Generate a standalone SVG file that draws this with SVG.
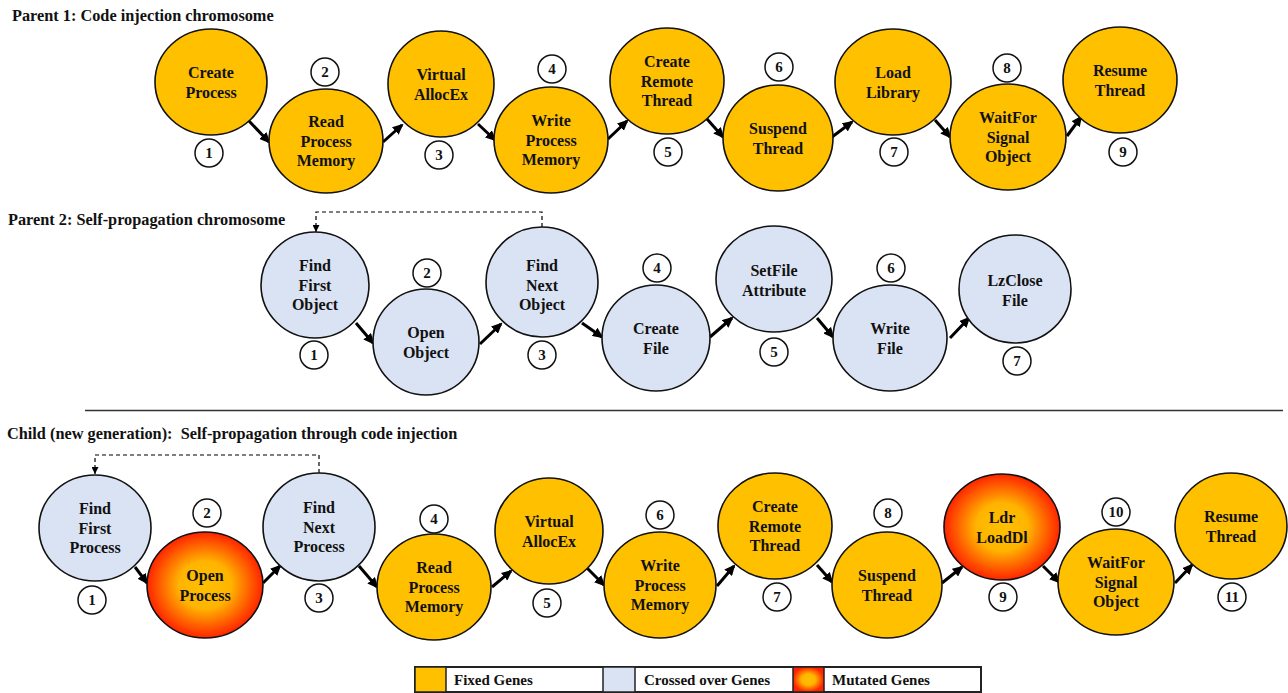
<svg xmlns="http://www.w3.org/2000/svg" width="1288" height="693" viewBox="0 0 1288 693">
<defs>
<radialGradient id="mut" cx="50%" cy="50%" r="50%">
<stop offset="0%" stop-color="#FFC000"/>
<stop offset="45%" stop-color="#FFB400"/>
<stop offset="100%" stop-color="#FF2400"/>
</radialGradient>
<marker id="ah" markerUnits="userSpaceOnUse" markerWidth="11" markerHeight="10" refX="9" refY="5" orient="auto">
<path d="M0,0 L11,5 L0,10 z" fill="#000"/>
</marker>
<marker id="dh" markerUnits="userSpaceOnUse" markerWidth="7" markerHeight="7" refX="7" refY="3.5" orient="auto">
<path d="M0,0 L7,3.5 L0,7 z" fill="#000"/>
</marker>
</defs>
<style>
.fx{fill:#FFC000;stroke:#111;stroke-width:1.6}
.cx{fill:#DAE3F3;stroke:#111;stroke-width:1.6}
.mx{fill:url(#mut);stroke:#111;stroke-width:1.6}
.lb{font-family:"Liberation Serif","Times New Roman",serif;font-weight:bold;font-size:16px;fill:#111;text-anchor:middle}
.nc{fill:#fff;stroke:#111;stroke-width:1.5}
.nt{font-family:"Liberation Serif","Times New Roman",serif;font-weight:bold;font-size:15px;fill:#111;text-anchor:middle}
.tt{font-family:"Liberation Serif","Times New Roman",serif;font-weight:bold;font-size:16.3px;fill:#111}
.ar{stroke:#000;stroke-width:3;fill:none;marker-end:url(#ah)}
.da{stroke:#000;stroke-width:1.2;fill:none;stroke-dasharray:4 3;marker-end:url(#dh)}
.lg{font-family:"Liberation Serif","Times New Roman",serif;font-weight:bold;font-size:15px;fill:#111}
</style>
<rect width="1288" height="693" fill="#fff"/>

<text class="tt" x="12" y="21">Parent 1: Code injection chromosome</text>
<text class="tt" x="8" y="225">Parent 2: Self-propagation chromosome</text>
<line x1="85" y1="410.5" x2="1283" y2="410.5" stroke="#333" stroke-width="1.6"/>
<text class="tt" x="7" y="439" xml:space="preserve">Child (new generation):  Self-propagation through code injection</text>

<g id="connectors">
<line class="ar" x1="249" y1="121" x2="269" y2="142"/>
<line class="ar" x1="383" y1="142" x2="402" y2="125"/>
<line class="ar" x1="478" y1="124" x2="495" y2="140"/>
<line class="ar" x1="608" y1="139" x2="627" y2="121"/>
<line class="ar" x1="707" y1="119" x2="723" y2="137"/>
<line class="ar" x1="832" y1="137" x2="852" y2="122"/>
<line class="ar" x1="935" y1="120" x2="950" y2="137"/>
<line class="ar" x1="1067" y1="136" x2="1081" y2="117"/>

<line class="ar" x1="356" y1="323" x2="373" y2="343"/>
<line class="ar" x1="480" y1="344" x2="501" y2="324"/>
<line class="ar" x1="582" y1="323" x2="602" y2="337"/>
<line class="ar" x1="710" y1="337" x2="732" y2="318"/>
<line class="ar" x1="817" y1="318" x2="833" y2="337"/>
<line class="ar" x1="950" y1="338" x2="969" y2="318"/>
<path class="da" d="M542,227 V212 H316 V232"/>

<line class="ar" x1="135" y1="567" x2="147" y2="583"/>
<line class="ar" x1="263" y1="583" x2="280" y2="566"/>
<line class="ar" x1="359" y1="566" x2="377" y2="587"/>
<line class="ar" x1="492" y1="587" x2="511" y2="571"/>
<line class="ar" x1="587" y1="568" x2="604" y2="585"/>
<line class="ar" x1="717" y1="586" x2="734" y2="566"/>
<line class="ar" x1="817" y1="565" x2="832" y2="582"/>
<line class="ar" x1="942" y1="583" x2="962" y2="567"/>
<line class="ar" x1="1043" y1="566" x2="1059" y2="582"/>
<line class="ar" x1="1175" y1="583" x2="1192" y2="565"/>
<path class="da" d="M319,473 V455 H95 V474"/>
</g>

<!-- Parent 1 -->
<g id="p1n1"><ellipse class="fx" cx="211" cy="82" rx="56" ry="53"/><text class="lb" x="211" y="78">Create</text><text class="lb" x="211" y="97.5">Process</text></g>
<g id="p1n2"><ellipse class="fx" cx="326" cy="141" rx="57" ry="52"/><text class="lb" x="326" y="127">Read</text><text class="lb" x="326" y="146.5">Process</text><text class="lb" x="326" y="166">Memory</text></g>
<g id="p1n3"><ellipse class="fx" cx="441" cy="84" rx="53" ry="53"/><text class="lb" x="441" y="80">Virtual</text><text class="lb" x="441" y="99.5">AllocEx</text></g>
<g id="p1n4"><ellipse class="fx" cx="551" cy="140" rx="57" ry="53"/><text class="lb" x="551" y="126">Write</text><text class="lb" x="551" y="145.5">Process</text><text class="lb" x="551" y="165">Memory</text></g>
<g id="p1n5"><ellipse class="fx" cx="667" cy="81" rx="57" ry="53"/><text class="lb" x="667" y="67">Create</text><text class="lb" x="667" y="86.5">Remote</text><text class="lb" x="667" y="106">Thread</text></g>
<g id="p1n6"><ellipse class="fx" cx="778" cy="138" rx="55" ry="53"/><text class="lb" x="778" y="134">Suspend</text><text class="lb" x="778" y="153.5">Thread</text></g>
<g id="p1n7"><ellipse class="fx" cx="893" cy="82" rx="58" ry="53"/><text class="lb" x="893" y="78">Load</text><text class="lb" x="893" y="97.5">Library</text></g>
<g id="p1n8"><ellipse class="fx" cx="1008" cy="137" rx="58" ry="53"/><text class="lb" x="1008" y="123">WaitFor</text><text class="lb" x="1008" y="142.5">Signal</text><text class="lb" x="1008" y="162">Object</text></g>
<g id="p1n9"><ellipse class="fx" cx="1120" cy="80" rx="57" ry="53"/><text class="lb" x="1120" y="76">Resume</text><text class="lb" x="1120" y="95.5">Thread</text></g>

<g id="p1nums">
<circle class="nc" cx="209" cy="153" r="14"/><text class="nt" x="209" y="158">1</text>
<circle class="nc" cx="325" cy="72" r="14"/><text class="nt" x="325" y="77">2</text>
<circle class="nc" cx="439" cy="155" r="14"/><text class="nt" x="439" y="160">3</text>
<circle class="nc" cx="552" cy="69" r="14"/><text class="nt" x="552" y="74">4</text>
<circle class="nc" cx="668" cy="152" r="14"/><text class="nt" x="668" y="157">5</text>
<circle class="nc" cx="779" cy="67" r="14"/><text class="nt" x="779" y="72">6</text>
<circle class="nc" cx="894" cy="152" r="14"/><text class="nt" x="894" y="157">7</text>
<circle class="nc" cx="1007" cy="68" r="14"/><text class="nt" x="1007" y="73">8</text>
<circle class="nc" cx="1123" cy="152" r="14"/><text class="nt" x="1123" y="157">9</text>
</g>

<!-- Parent 2 -->
<g id="p2n1"><ellipse class="cx" cx="315" cy="285" rx="54" ry="53"/><text class="lb" x="315" y="271">Find</text><text class="lb" x="315" y="290.5">First</text><text class="lb" x="315" y="310">Object</text></g>
<g id="p2n2"><ellipse class="cx" cx="426" cy="342" rx="53" ry="53"/><text class="lb" x="426" y="338">Open</text><text class="lb" x="426" y="357.5">Object</text></g>
<g id="p2n3"><ellipse class="cx" cx="542" cy="282" rx="56" ry="55"/><text class="lb" x="542" y="271">Find</text><text class="lb" x="542" y="290.5">Next</text><text class="lb" x="542" y="310">Object</text></g>
<g id="p2n4"><ellipse class="cx" cx="656" cy="338" rx="54" ry="53"/><text class="lb" x="656" y="334">Create</text><text class="lb" x="656" y="353.5">File</text></g>
<g id="p2n5"><ellipse class="cx" cx="774" cy="279" rx="58" ry="53"/><text class="lb" x="774" y="276">SetFile</text><text class="lb" x="774" y="295.5">Attribute</text></g>
<g id="p2n6"><ellipse class="cx" cx="890" cy="338" rx="57" ry="53"/><text class="lb" x="890" y="334">Write</text><text class="lb" x="890" y="353.5">File</text></g>
<g id="p2n7"><ellipse class="cx" cx="1015" cy="289" rx="56" ry="54"/><text class="lb" x="1015" y="286">LzClose</text><text class="lb" x="1015" y="305.5">File</text></g>

<g id="p2nums">
<circle class="nc" cx="314" cy="355" r="14"/><text class="nt" x="314" y="360">1</text>
<circle class="nc" cx="427" cy="273" r="14"/><text class="nt" x="427" y="278">2</text>
<circle class="nc" cx="542" cy="355" r="14"/><text class="nt" x="542" y="360">3</text>
<circle class="nc" cx="657" cy="268" r="14"/><text class="nt" x="657" y="273">4</text>
<circle class="nc" cx="774" cy="352" r="14"/><text class="nt" x="774" y="357">5</text>
<circle class="nc" cx="891" cy="268" r="14"/><text class="nt" x="891" y="273">6</text>
<circle class="nc" cx="1017" cy="361" r="14"/><text class="nt" x="1017" y="366">7</text>
</g>

<!-- Child -->
<g id="cn1"><ellipse class="cx" cx="95" cy="528" rx="56" ry="53"/><text class="lb" x="95" y="514">Find</text><text class="lb" x="95" y="533.5">First</text><text class="lb" x="95" y="553">Process</text></g>
<g id="cn2"><ellipse class="mx" cx="205" cy="585" rx="58" ry="53"/><text class="lb" x="205" y="581">Open</text><text class="lb" x="205" y="600.5">Process</text></g>
<g id="cn3"><ellipse class="cx" cx="319" cy="527" rx="56" ry="54"/><text class="lb" x="319" y="513">Find</text><text class="lb" x="319" y="532.5">Next</text><text class="lb" x="319" y="552">Process</text></g>
<g id="cn4"><ellipse class="fx" cx="434" cy="587" rx="57" ry="53"/><text class="lb" x="434" y="573">Read</text><text class="lb" x="434" y="592.5">Process</text><text class="lb" x="434" y="612">Memory</text></g>
<g id="cn5"><ellipse class="fx" cx="549" cy="531" rx="54" ry="53"/><text class="lb" x="549" y="527">Virtual</text><text class="lb" x="549" y="546.5">AllocEx</text></g>
<g id="cn6"><ellipse class="fx" cx="660" cy="585" rx="56" ry="53"/><text class="lb" x="660" y="571">Write</text><text class="lb" x="660" y="590.5">Process</text><text class="lb" x="660" y="610">Memory</text></g>
<g id="cn7"><ellipse class="fx" cx="775" cy="526" rx="57" ry="53"/><text class="lb" x="775" y="512">Create</text><text class="lb" x="775" y="531.5">Remote</text><text class="lb" x="775" y="551">Thread</text></g>
<g id="cn8"><ellipse class="fx" cx="887" cy="585" rx="55" ry="53"/><text class="lb" x="887" y="581">Suspend</text><text class="lb" x="887" y="600.5">Thread</text></g>
<g id="cn9"><ellipse class="mx" cx="1002" cy="527" rx="58" ry="53"/><text class="lb" x="1002" y="523">Ldr</text><text class="lb" x="1002" y="542.5">LoadDl</text></g>
<g id="cn10"><ellipse class="fx" cx="1116" cy="582" rx="58" ry="53"/><text class="lb" x="1116" y="568">WaitFor</text><text class="lb" x="1116" y="587.5">Signal</text><text class="lb" x="1116" y="607">Object</text></g>
<g id="cn11"><ellipse class="fx" cx="1231" cy="526" rx="56" ry="53"/><text class="lb" x="1231" y="522">Resume</text><text class="lb" x="1231" y="541.5">Thread</text></g>

<g id="cnums">
<circle class="nc" cx="92" cy="600" r="14"/><text class="nt" x="92" y="605">1</text>
<circle class="nc" cx="207" cy="513" r="14"/><text class="nt" x="207" y="518">2</text>
<circle class="nc" cx="319" cy="598" r="14"/><text class="nt" x="319" y="603">3</text>
<circle class="nc" cx="434" cy="519" r="14"/><text class="nt" x="434" y="524">4</text>
<circle class="nc" cx="547" cy="603" r="14"/><text class="nt" x="547" y="608">5</text>
<circle class="nc" cx="660" cy="515" r="14"/><text class="nt" x="660" y="520">6</text>
<circle class="nc" cx="777" cy="597" r="14"/><text class="nt" x="777" y="602">7</text>
<circle class="nc" cx="888" cy="513" r="14"/><text class="nt" x="888" y="518">8</text>
<circle class="nc" cx="1003" cy="597" r="14"/><text class="nt" x="1003" y="602">9</text>
<circle class="nc" cx="1116" cy="512" r="14"/><text class="nt" x="1116" y="517">10</text>
<circle class="nc" cx="1232" cy="597" r="14"/><text class="nt" x="1232" y="602">11</text>
</g>

<!-- Legend -->
<g id="legend">
<rect x="415" y="667" width="566" height="25" fill="#fff" stroke="#222" stroke-width="2"/>
<rect x="415" y="667" width="31" height="25" fill="#FFC000" stroke="#222" stroke-width="1.5"/>
<rect x="603" y="667" width="32" height="25" fill="#DAE3F3" stroke="#222" stroke-width="1.5"/>
<rect x="793" y="667" width="31" height="25" fill="url(#mut)" stroke="#222" stroke-width="1.5"/>
<text class="lg" x="454" y="685">Fixed Genes</text>
<text class="lg" x="644" y="685">Crossed over Genes</text>
<text class="lg" x="832" y="685">Mutated Genes</text>
</g>
</svg>
